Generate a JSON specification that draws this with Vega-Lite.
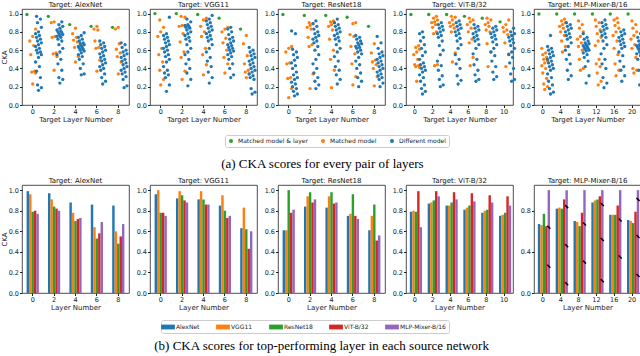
{
"$schema": "https://vega.github.io/schema/vega-lite/v6.json",
"padding": {"left": 0, "top": 0, "right": 0, "bottom": 0},
"config": {
  "font": "DejaVu Sans",
  "view": {"stroke": "#222", "strokeWidth": 0.8},
  "axis": {"domain": false, "grid": false, "labelFontSize": 6.5, "titleFontSize": 7, "titleFontWeight": "normal", "tickColor": "#222", "tickSize": 2.5, "labelColor": "#222", "titleColor": "#222", "labelPadding": 1, "titlePadding": 0.5},
  "title": {"fontSize": 7, "fontWeight": "normal", "offset": 1, "color": "#111"},
  "legend": {"labelFontSize": 6, "labelColor": "#222", "strokeColor": "#ccc", "padding": 3, "cornerRadius": 2, "columnPadding": 12, "labelLimit": 200, "direction": "horizontal", "orient": "none"}
},
"resolve": {"scale": {"color": "independent"}, "legend": {"color": "independent"}},
"spacing": 5,
"datasets": {
"s_alexnet": [
{"layer":0,"kind":"G","cka":0.99},{"layer":2,"kind":"G","cka":0.97},{"layer":4,"kind":"G","cka":0.88},{"layer":6,"kind":"G","cka":0.86},{"layer":8,"kind":"G","cka":0.85},
{"layer":0,"kind":"O","cka":0.83},{"layer":0,"kind":"O","cka":0.75},{"layer":0,"kind":"O","cka":0.70},{"layer":0,"kind":"O","cka":0.65},{"layer":0,"kind":"O","cka":0.55},{"layer":0,"kind":"O","cka":0.37},{"layer":0,"kind":"O","cka":0.35},{"layer":0,"kind":"O","cka":0.36},{"layer":0,"kind":"O","cka":0.23},
{"layer":2,"kind":"O","cka":0.91},{"layer":2,"kind":"O","cka":0.90},{"layer":2,"kind":"O","cka":0.75},{"layer":2,"kind":"O","cka":0.74},{"layer":2,"kind":"O","cka":0.57},{"layer":2,"kind":"O","cka":0.56},{"layer":2,"kind":"O","cka":0.53},{"layer":2,"kind":"O","cka":0.38},
{"layer":4,"kind":"O","cka":0.84},{"layer":4,"kind":"O","cka":0.78},{"layer":4,"kind":"O","cka":0.74},{"layer":4,"kind":"O","cka":0.71},{"layer":4,"kind":"O","cka":0.69},{"layer":4,"kind":"O","cka":0.63},{"layer":4,"kind":"O","cka":0.53},{"layer":4,"kind":"O","cka":0.47},
{"layer":6,"kind":"O","cka":0.86},{"layer":6,"kind":"O","cka":0.83},{"layer":6,"kind":"O","cka":0.82},{"layer":6,"kind":"O","cka":0.70},{"layer":6,"kind":"O","cka":0.63},{"layer":6,"kind":"O","cka":0.62},{"layer":6,"kind":"O","cka":0.49},{"layer":6,"kind":"O","cka":0.37},
{"layer":8,"kind":"O","cka":0.85},{"layer":8,"kind":"O","cka":0.83},{"layer":8,"kind":"O","cka":0.67},{"layer":8,"kind":"O","cka":0.61},{"layer":8,"kind":"O","cka":0.57},{"layer":8,"kind":"O","cka":0.53},{"layer":8,"kind":"O","cka":0.47},{"layer":8,"kind":"O","cka":0.34},
{"layer":0,"kind":"D","cka":0.16},{"layer":0,"kind":"D","cka":0.19},{"layer":0,"kind":"D","cka":0.22},{"layer":0,"kind":"D","cka":0.30},{"layer":0,"kind":"D","cka":0.37},{"layer":0,"kind":"D","cka":0.42},{"layer":0,"kind":"D","cka":0.47},{"layer":0,"kind":"D","cka":0.52},{"layer":0,"kind":"D","cka":0.55},{"layer":0,"kind":"D","cka":0.57},{"layer":0,"kind":"D","cka":0.58},{"layer":0,"kind":"D","cka":0.60},{"layer":0,"kind":"D","cka":0.62},{"layer":0,"kind":"D","cka":0.64},{"layer":0,"kind":"D","cka":0.66},{"layer":0,"kind":"D","cka":0.68},{"layer":0,"kind":"D","cka":0.70},{"layer":0,"kind":"D","cka":0.72},{"layer":0,"kind":"D","cka":0.74},{"layer":0,"kind":"D","cka":0.76},{"layer":0,"kind":"D","cka":0.78},{"layer":0,"kind":"D","cka":0.80},{"layer":0,"kind":"D","cka":0.85},{"layer":0,"kind":"D","cka":0.90},{"layer":0,"kind":"D","cka":0.94},{"layer":0,"kind":"D","cka":0.97},
{"layer":2,"kind":"D","cka":0.24},{"layer":2,"kind":"D","cka":0.28},{"layer":2,"kind":"D","cka":0.30},{"layer":2,"kind":"D","cka":0.38},{"layer":2,"kind":"D","cka":0.45},{"layer":2,"kind":"D","cka":0.50},{"layer":2,"kind":"D","cka":0.55},{"layer":2,"kind":"D","cka":0.58},{"layer":2,"kind":"D","cka":0.62},{"layer":2,"kind":"D","cka":0.66},{"layer":2,"kind":"D","cka":0.70},{"layer":2,"kind":"D","cka":0.72},{"layer":2,"kind":"D","cka":0.74},{"layer":2,"kind":"D","cka":0.75},{"layer":2,"kind":"D","cka":0.76},{"layer":2,"kind":"D","cka":0.77},{"layer":2,"kind":"D","cka":0.78},{"layer":2,"kind":"D","cka":0.79},{"layer":2,"kind":"D","cka":0.80},{"layer":2,"kind":"D","cka":0.81},{"layer":2,"kind":"D","cka":0.82},{"layer":2,"kind":"D","cka":0.84},{"layer":2,"kind":"D","cka":0.86},{"layer":2,"kind":"D","cka":0.88},{"layer":2,"kind":"D","cka":0.91},
{"layer":4,"kind":"D","cka":0.33},{"layer":4,"kind":"D","cka":0.34},{"layer":4,"kind":"D","cka":0.40},{"layer":4,"kind":"D","cka":0.45},{"layer":4,"kind":"D","cka":0.50},{"layer":4,"kind":"D","cka":0.53},{"layer":4,"kind":"D","cka":0.55},{"layer":4,"kind":"D","cka":0.57},{"layer":4,"kind":"D","cka":0.59},{"layer":4,"kind":"D","cka":0.60},{"layer":4,"kind":"D","cka":0.61},{"layer":4,"kind":"D","cka":0.62},{"layer":4,"kind":"D","cka":0.63},{"layer":4,"kind":"D","cka":0.64},{"layer":4,"kind":"D","cka":0.65},{"layer":4,"kind":"D","cka":0.66},{"layer":4,"kind":"D","cka":0.67},{"layer":4,"kind":"D","cka":0.68},{"layer":4,"kind":"D","cka":0.70},{"layer":4,"kind":"D","cka":0.72},{"layer":4,"kind":"D","cka":0.74},{"layer":4,"kind":"D","cka":0.76},{"layer":4,"kind":"D","cka":0.79},
{"layer":6,"kind":"D","cka":0.23},{"layer":6,"kind":"D","cka":0.26},{"layer":6,"kind":"D","cka":0.30},{"layer":6,"kind":"D","cka":0.34},{"layer":6,"kind":"D","cka":0.38},{"layer":6,"kind":"D","cka":0.40},{"layer":6,"kind":"D","cka":0.42},{"layer":6,"kind":"D","cka":0.44},{"layer":6,"kind":"D","cka":0.46},{"layer":6,"kind":"D","cka":0.48},{"layer":6,"kind":"D","cka":0.50},{"layer":6,"kind":"D","cka":0.52},{"layer":6,"kind":"D","cka":0.54},{"layer":6,"kind":"D","cka":0.56},{"layer":6,"kind":"D","cka":0.58},{"layer":6,"kind":"D","cka":0.60},{"layer":6,"kind":"D","cka":0.62},{"layer":6,"kind":"D","cka":0.64},{"layer":6,"kind":"D","cka":0.66},{"layer":6,"kind":"D","cka":0.68},{"layer":6,"kind":"D","cka":0.70},
{"layer":8,"kind":"D","cka":0.19},{"layer":8,"kind":"D","cka":0.21},{"layer":8,"kind":"D","cka":0.28},{"layer":8,"kind":"D","cka":0.31},{"layer":8,"kind":"D","cka":0.34},{"layer":8,"kind":"D","cka":0.36},{"layer":8,"kind":"D","cka":0.38},{"layer":8,"kind":"D","cka":0.40},{"layer":8,"kind":"D","cka":0.42},{"layer":8,"kind":"D","cka":0.44},{"layer":8,"kind":"D","cka":0.46},{"layer":8,"kind":"D","cka":0.48},{"layer":8,"kind":"D","cka":0.50},{"layer":8,"kind":"D","cka":0.52},{"layer":8,"kind":"D","cka":0.54},{"layer":8,"kind":"D","cka":0.56},{"layer":8,"kind":"D","cka":0.58},{"layer":8,"kind":"D","cka":0.60},{"layer":8,"kind":"D","cka":0.63},{"layer":8,"kind":"D","cka":0.66},{"layer":8,"kind":"D","cka":0.68}
],
"s_vgg": [
{"layer":0,"kind":"G","cka":1.0},{"layer":2,"kind":"G","cka":1.0},{"layer":4,"kind":"G","cka":0.99},{"layer":6,"kind":"G","cka":0.95},{"layer":8,"kind":"G","cka":0.83},
{"layer":0,"kind":"O","cka":0.93},{"layer":0,"kind":"O","cka":0.85},{"layer":0,"kind":"O","cka":0.80},{"layer":0,"kind":"O","cka":0.75},{"layer":0,"kind":"O","cka":0.62},{"layer":0,"kind":"O","cka":0.55},{"layer":0,"kind":"O","cka":0.47},{"layer":0,"kind":"O","cka":0.38},{"layer":0,"kind":"O","cka":0.28},{"layer":0,"kind":"O","cka":0.22},
{"layer":2,"kind":"O","cka":0.97},{"layer":2,"kind":"O","cka":0.96},{"layer":2,"kind":"O","cka":0.87},{"layer":2,"kind":"O","cka":0.86},{"layer":2,"kind":"O","cka":0.78},{"layer":2,"kind":"O","cka":0.69},{"layer":2,"kind":"O","cka":0.58},{"layer":2,"kind":"O","cka":0.52},{"layer":2,"kind":"O","cka":0.37},{"layer":2,"kind":"O","cka":0.28},
{"layer":4,"kind":"O","cka":0.95},{"layer":4,"kind":"O","cka":0.93},{"layer":4,"kind":"O","cka":0.86},{"layer":4,"kind":"O","cka":0.80},{"layer":4,"kind":"O","cka":0.75},{"layer":4,"kind":"O","cka":0.62},{"layer":4,"kind":"O","cka":0.55},{"layer":4,"kind":"O","cka":0.44},{"layer":4,"kind":"O","cka":0.33},
{"layer":6,"kind":"O","cka":0.85},{"layer":6,"kind":"O","cka":0.83},{"layer":6,"kind":"O","cka":0.80},{"layer":6,"kind":"O","cka":0.73},{"layer":6,"kind":"O","cka":0.68},{"layer":6,"kind":"O","cka":0.60},{"layer":6,"kind":"O","cka":0.52},{"layer":6,"kind":"O","cka":0.45},{"layer":6,"kind":"O","cka":0.35},
{"layer":8,"kind":"O","cka":0.76},{"layer":8,"kind":"O","cka":0.67},{"layer":8,"kind":"O","cka":0.54},{"layer":8,"kind":"O","cka":0.45},{"layer":8,"kind":"O","cka":0.38},{"layer":8,"kind":"O","cka":0.36},{"layer":8,"kind":"O","cka":0.34},{"layer":8,"kind":"O","cka":0.30},
{"layer":0,"kind":"D","cka":0.15},{"layer":0,"kind":"D","cka":0.22},{"layer":0,"kind":"D","cka":0.30},{"layer":0,"kind":"D","cka":0.33},{"layer":0,"kind":"D","cka":0.35},{"layer":0,"kind":"D","cka":0.38},{"layer":0,"kind":"D","cka":0.42},{"layer":0,"kind":"D","cka":0.47},{"layer":0,"kind":"D","cka":0.50},{"layer":0,"kind":"D","cka":0.53},{"layer":0,"kind":"D","cka":0.55},{"layer":0,"kind":"D","cka":0.58},{"layer":0,"kind":"D","cka":0.60},{"layer":0,"kind":"D","cka":0.62},{"layer":0,"kind":"D","cka":0.64},{"layer":0,"kind":"D","cka":0.66},{"layer":0,"kind":"D","cka":0.68},{"layer":0,"kind":"D","cka":0.70},{"layer":0,"kind":"D","cka":0.72},{"layer":0,"kind":"D","cka":0.74},{"layer":0,"kind":"D","cka":0.76},{"layer":0,"kind":"D","cka":0.78},{"layer":0,"kind":"D","cka":0.96},
{"layer":2,"kind":"D","cka":0.21},{"layer":2,"kind":"D","cka":0.28},{"layer":2,"kind":"D","cka":0.35},{"layer":2,"kind":"D","cka":0.40},{"layer":2,"kind":"D","cka":0.45},{"layer":2,"kind":"D","cka":0.50},{"layer":2,"kind":"D","cka":0.55},{"layer":2,"kind":"D","cka":0.58},{"layer":2,"kind":"D","cka":0.62},{"layer":2,"kind":"D","cka":0.66},{"layer":2,"kind":"D","cka":0.70},{"layer":2,"kind":"D","cka":0.72},{"layer":2,"kind":"D","cka":0.74},{"layer":2,"kind":"D","cka":0.76},{"layer":2,"kind":"D","cka":0.78},{"layer":2,"kind":"D","cka":0.80},{"layer":2,"kind":"D","cka":0.82},{"layer":2,"kind":"D","cka":0.84},{"layer":2,"kind":"D","cka":0.85},{"layer":2,"kind":"D","cka":0.86},{"layer":2,"kind":"D","cka":0.87},{"layer":2,"kind":"D","cka":0.88},{"layer":2,"kind":"D","cka":0.91},{"layer":2,"kind":"D","cka":0.94},
{"layer":4,"kind":"D","cka":0.24},{"layer":4,"kind":"D","cka":0.30},{"layer":4,"kind":"D","cka":0.36},{"layer":4,"kind":"D","cka":0.42},{"layer":4,"kind":"D","cka":0.48},{"layer":4,"kind":"D","cka":0.52},{"layer":4,"kind":"D","cka":0.58},{"layer":4,"kind":"D","cka":0.62},{"layer":4,"kind":"D","cka":0.66},{"layer":4,"kind":"D","cka":0.70},{"layer":4,"kind":"D","cka":0.72},{"layer":4,"kind":"D","cka":0.74},{"layer":4,"kind":"D","cka":0.76},{"layer":4,"kind":"D","cka":0.78},{"layer":4,"kind":"D","cka":0.80},{"layer":4,"kind":"D","cka":0.82},{"layer":4,"kind":"D","cka":0.84},{"layer":4,"kind":"D","cka":0.86},{"layer":4,"kind":"D","cka":0.88},{"layer":4,"kind":"D","cka":0.90},{"layer":4,"kind":"D","cka":0.92},{"layer":4,"kind":"D","cka":0.94},{"layer":4,"kind":"D","cka":0.98},
{"layer":6,"kind":"D","cka":0.30},{"layer":6,"kind":"D","cka":0.33},{"layer":6,"kind":"D","cka":0.40},{"layer":6,"kind":"D","cka":0.45},{"layer":6,"kind":"D","cka":0.50},{"layer":6,"kind":"D","cka":0.53},{"layer":6,"kind":"D","cka":0.55},{"layer":6,"kind":"D","cka":0.57},{"layer":6,"kind":"D","cka":0.59},{"layer":6,"kind":"D","cka":0.60},{"layer":6,"kind":"D","cka":0.62},{"layer":6,"kind":"D","cka":0.63},{"layer":6,"kind":"D","cka":0.65},{"layer":6,"kind":"D","cka":0.66},{"layer":6,"kind":"D","cka":0.68},{"layer":6,"kind":"D","cka":0.70},{"layer":6,"kind":"D","cka":0.72},{"layer":6,"kind":"D","cka":0.74},{"layer":6,"kind":"D","cka":0.77},{"layer":6,"kind":"D","cka":0.80},{"layer":6,"kind":"D","cka":0.83},{"layer":6,"kind":"D","cka":0.85},
{"layer":8,"kind":"D","cka":0.12},{"layer":8,"kind":"D","cka":0.14},{"layer":8,"kind":"D","cka":0.18},{"layer":8,"kind":"D","cka":0.28},{"layer":8,"kind":"D","cka":0.30},{"layer":8,"kind":"D","cka":0.32},{"layer":8,"kind":"D","cka":0.34},{"layer":8,"kind":"D","cka":0.36},{"layer":8,"kind":"D","cka":0.38},{"layer":8,"kind":"D","cka":0.40},{"layer":8,"kind":"D","cka":0.42},{"layer":8,"kind":"D","cka":0.44},{"layer":8,"kind":"D","cka":0.46},{"layer":8,"kind":"D","cka":0.48},{"layer":8,"kind":"D","cka":0.50},{"layer":8,"kind":"D","cka":0.52},{"layer":8,"kind":"D","cka":0.54},{"layer":8,"kind":"D","cka":0.56},{"layer":8,"kind":"D","cka":0.58},{"layer":8,"kind":"D","cka":0.60},{"layer":8,"kind":"D","cka":0.63}
],
"s_resnet": [
{"layer":0,"kind":"G","cka":0.99},{"layer":2,"kind":"G","cka":0.98},{"layer":4,"kind":"G","cka":0.98},{"layer":6,"kind":"G","cka":0.96},{"layer":8,"kind":"G","cka":0.86},
{"layer":0,"kind":"O","cka":0.64},{"layer":0,"kind":"O","cka":0.62},{"layer":0,"kind":"O","cka":0.58},{"layer":0,"kind":"O","cka":0.46},{"layer":0,"kind":"O","cka":0.45},{"layer":0,"kind":"O","cka":0.30},{"layer":0,"kind":"O","cka":0.29},{"layer":0,"kind":"O","cka":0.18},{"layer":0,"kind":"O","cka":0.08},
{"layer":2,"kind":"O","cka":0.90},{"layer":2,"kind":"O","cka":0.89},{"layer":2,"kind":"O","cka":0.87},{"layer":2,"kind":"O","cka":0.85},{"layer":2,"kind":"O","cka":0.83},{"layer":2,"kind":"O","cka":0.74},{"layer":2,"kind":"O","cka":0.66},{"layer":2,"kind":"O","cka":0.64},{"layer":2,"kind":"O","cka":0.34},{"layer":2,"kind":"O","cka":0.18},
{"layer":4,"kind":"O","cka":0.92},{"layer":4,"kind":"O","cka":0.91},{"layer":4,"kind":"O","cka":0.90},{"layer":4,"kind":"O","cka":0.88},{"layer":4,"kind":"O","cka":0.86},{"layer":4,"kind":"O","cka":0.82},{"layer":4,"kind":"O","cka":0.72},{"layer":4,"kind":"O","cka":0.60},{"layer":4,"kind":"O","cka":0.50},{"layer":4,"kind":"O","cka":0.38},{"layer":4,"kind":"O","cka":0.19},
{"layer":6,"kind":"O","cka":0.90},{"layer":6,"kind":"O","cka":0.89},{"layer":6,"kind":"O","cka":0.77},{"layer":6,"kind":"O","cka":0.75},{"layer":6,"kind":"O","cka":0.64},{"layer":6,"kind":"O","cka":0.56},{"layer":6,"kind":"O","cka":0.45},{"layer":6,"kind":"O","cka":0.31},{"layer":6,"kind":"O","cka":0.22},
{"layer":8,"kind":"O","cka":0.67},{"layer":8,"kind":"O","cka":0.57},{"layer":8,"kind":"O","cka":0.49},{"layer":8,"kind":"O","cka":0.47},{"layer":8,"kind":"O","cka":0.44},{"layer":8,"kind":"O","cka":0.40},{"layer":8,"kind":"O","cka":0.31},{"layer":8,"kind":"O","cka":0.21},
{"layer":0,"kind":"D","cka":0.10},{"layer":0,"kind":"D","cka":0.12},{"layer":0,"kind":"D","cka":0.15},{"layer":0,"kind":"D","cka":0.18},{"layer":0,"kind":"D","cka":0.20},{"layer":0,"kind":"D","cka":0.23},{"layer":0,"kind":"D","cka":0.25},{"layer":0,"kind":"D","cka":0.28},{"layer":0,"kind":"D","cka":0.30},{"layer":0,"kind":"D","cka":0.33},{"layer":0,"kind":"D","cka":0.36},{"layer":0,"kind":"D","cka":0.40},{"layer":0,"kind":"D","cka":0.43},{"layer":0,"kind":"D","cka":0.46},{"layer":0,"kind":"D","cka":0.49},{"layer":0,"kind":"D","cka":0.52},{"layer":0,"kind":"D","cka":0.55},{"layer":0,"kind":"D","cka":0.58},{"layer":0,"kind":"D","cka":0.61},{"layer":0,"kind":"D","cka":0.78},{"layer":0,"kind":"D","cka":0.81},
{"layer":2,"kind":"D","cka":0.18},{"layer":2,"kind":"D","cka":0.22},{"layer":2,"kind":"D","cka":0.26},{"layer":2,"kind":"D","cka":0.30},{"layer":2,"kind":"D","cka":0.35},{"layer":2,"kind":"D","cka":0.40},{"layer":2,"kind":"D","cka":0.45},{"layer":2,"kind":"D","cka":0.50},{"layer":2,"kind":"D","cka":0.55},{"layer":2,"kind":"D","cka":0.60},{"layer":2,"kind":"D","cka":0.64},{"layer":2,"kind":"D","cka":0.68},{"layer":2,"kind":"D","cka":0.70},{"layer":2,"kind":"D","cka":0.72},{"layer":2,"kind":"D","cka":0.74},{"layer":2,"kind":"D","cka":0.76},{"layer":2,"kind":"D","cka":0.78},{"layer":2,"kind":"D","cka":0.80},{"layer":2,"kind":"D","cka":0.83},{"layer":2,"kind":"D","cka":0.86},{"layer":2,"kind":"D","cka":0.89},{"layer":2,"kind":"D","cka":0.92},
{"layer":4,"kind":"D","cka":0.23},{"layer":4,"kind":"D","cka":0.28},{"layer":4,"kind":"D","cka":0.33},{"layer":4,"kind":"D","cka":0.38},{"layer":4,"kind":"D","cka":0.42},{"layer":4,"kind":"D","cka":0.48},{"layer":4,"kind":"D","cka":0.53},{"layer":4,"kind":"D","cka":0.58},{"layer":4,"kind":"D","cka":0.62},{"layer":4,"kind":"D","cka":0.66},{"layer":4,"kind":"D","cka":0.70},{"layer":4,"kind":"D","cka":0.72},{"layer":4,"kind":"D","cka":0.74},{"layer":4,"kind":"D","cka":0.76},{"layer":4,"kind":"D","cka":0.78},{"layer":4,"kind":"D","cka":0.80},{"layer":4,"kind":"D","cka":0.82},{"layer":4,"kind":"D","cka":0.84},{"layer":4,"kind":"D","cka":0.86},{"layer":4,"kind":"D","cka":0.88},{"layer":4,"kind":"D","cka":0.90},{"layer":4,"kind":"D","cka":0.94},
{"layer":6,"kind":"D","cka":0.20},{"layer":6,"kind":"D","cka":0.26},{"layer":6,"kind":"D","cka":0.30},{"layer":6,"kind":"D","cka":0.35},{"layer":6,"kind":"D","cka":0.40},{"layer":6,"kind":"D","cka":0.44},{"layer":6,"kind":"D","cka":0.48},{"layer":6,"kind":"D","cka":0.52},{"layer":6,"kind":"D","cka":0.56},{"layer":6,"kind":"D","cka":0.58},{"layer":6,"kind":"D","cka":0.60},{"layer":6,"kind":"D","cka":0.62},{"layer":6,"kind":"D","cka":0.63},{"layer":6,"kind":"D","cka":0.64},{"layer":6,"kind":"D","cka":0.66},{"layer":6,"kind":"D","cka":0.67},{"layer":6,"kind":"D","cka":0.68},{"layer":6,"kind":"D","cka":0.70},{"layer":6,"kind":"D","cka":0.72},{"layer":6,"kind":"D","cka":0.74},{"layer":6,"kind":"D","cka":0.76},
{"layer":8,"kind":"D","cka":0.20},{"layer":8,"kind":"D","cka":0.24},{"layer":8,"kind":"D","cka":0.28},{"layer":8,"kind":"D","cka":0.30},{"layer":8,"kind":"D","cka":0.32},{"layer":8,"kind":"D","cka":0.34},{"layer":8,"kind":"D","cka":0.36},{"layer":8,"kind":"D","cka":0.38},{"layer":8,"kind":"D","cka":0.40},{"layer":8,"kind":"D","cka":0.42},{"layer":8,"kind":"D","cka":0.44},{"layer":8,"kind":"D","cka":0.46},{"layer":8,"kind":"D","cka":0.48},{"layer":8,"kind":"D","cka":0.50},{"layer":8,"kind":"D","cka":0.52},{"layer":8,"kind":"D","cka":0.54},{"layer":8,"kind":"D","cka":0.56},{"layer":8,"kind":"D","cka":0.58},{"layer":8,"kind":"D","cka":0.62},{"layer":8,"kind":"D","cka":0.68},{"layer":8,"kind":"D","cka":0.75}
],
"s_vit": [
{"layer":0,"kind":"G","cka":0.99},{"layer":2,"kind":"G","cka":0.99},{"layer":4,"kind":"G","cka":0.99},{"layer":6,"kind":"G","cka":0.97},{"layer":8,"kind":"G","cka":0.95},{"layer":10,"kind":"G","cka":0.91},
{"layer":0,"kind":"O","cka":0.65},{"layer":0,"kind":"O","cka":0.63},{"layer":0,"kind":"O","cka":0.61},{"layer":0,"kind":"O","cka":0.58},{"layer":0,"kind":"O","cka":0.55},{"layer":0,"kind":"O","cka":0.50},{"layer":0,"kind":"O","cka":0.44},{"layer":0,"kind":"O","cka":0.43},{"layer":0,"kind":"O","cka":0.42},{"layer":0,"kind":"O","cka":0.41},{"layer":0,"kind":"O","cka":0.26},
{"layer":2,"kind":"O","cka":0.97},{"layer":2,"kind":"O","cka":0.95},{"layer":2,"kind":"O","cka":0.93},{"layer":2,"kind":"O","cka":0.91},{"layer":2,"kind":"O","cka":0.90},{"layer":2,"kind":"O","cka":0.88},{"layer":2,"kind":"O","cka":0.85},{"layer":2,"kind":"O","cka":0.80},{"layer":2,"kind":"O","cka":0.78},{"layer":2,"kind":"O","cka":0.44},{"layer":2,"kind":"O","cka":0.43},
{"layer":4,"kind":"O","cka":0.97},{"layer":4,"kind":"O","cka":0.96},{"layer":4,"kind":"O","cka":0.93},{"layer":4,"kind":"O","cka":0.90},{"layer":4,"kind":"O","cka":0.88},{"layer":4,"kind":"O","cka":0.86},{"layer":4,"kind":"O","cka":0.84},{"layer":4,"kind":"O","cka":0.80},{"layer":4,"kind":"O","cka":0.57},{"layer":4,"kind":"O","cka":0.47},
{"layer":6,"kind":"O","cka":0.95},{"layer":6,"kind":"O","cka":0.93},{"layer":6,"kind":"O","cka":0.91},{"layer":6,"kind":"O","cka":0.88},{"layer":6,"kind":"O","cka":0.84},{"layer":6,"kind":"O","cka":0.80},{"layer":6,"kind":"O","cka":0.72},{"layer":6,"kind":"O","cka":0.68},{"layer":6,"kind":"O","cka":0.52},{"layer":6,"kind":"O","cka":0.43},
{"layer":8,"kind":"O","cka":0.95},{"layer":8,"kind":"O","cka":0.93},{"layer":8,"kind":"O","cka":0.90},{"layer":8,"kind":"O","cka":0.88},{"layer":8,"kind":"O","cka":0.86},{"layer":8,"kind":"O","cka":0.82},{"layer":8,"kind":"O","cka":0.80},{"layer":8,"kind":"O","cka":0.67},{"layer":8,"kind":"O","cka":0.58},{"layer":8,"kind":"O","cka":0.42},
{"layer":10,"kind":"O","cka":0.93},{"layer":10,"kind":"O","cka":0.88},{"layer":10,"kind":"O","cka":0.85},{"layer":10,"kind":"O","cka":0.82},{"layer":10,"kind":"O","cka":0.80},{"layer":10,"kind":"O","cka":0.77},{"layer":10,"kind":"O","cka":0.68},{"layer":10,"kind":"O","cka":0.56},{"layer":10,"kind":"O","cka":0.42},
{"layer":0,"kind":"D","cka":0.12},{"layer":0,"kind":"D","cka":0.15},{"layer":0,"kind":"D","cka":0.18},{"layer":0,"kind":"D","cka":0.22},{"layer":0,"kind":"D","cka":0.26},{"layer":0,"kind":"D","cka":0.30},{"layer":0,"kind":"D","cka":0.33},{"layer":0,"kind":"D","cka":0.36},{"layer":0,"kind":"D","cka":0.38},{"layer":0,"kind":"D","cka":0.40},{"layer":0,"kind":"D","cka":0.42},{"layer":0,"kind":"D","cka":0.44},{"layer":0,"kind":"D","cka":0.46},{"layer":0,"kind":"D","cka":0.50},{"layer":0,"kind":"D","cka":0.54},{"layer":0,"kind":"D","cka":0.58},{"layer":0,"kind":"D","cka":0.62},{"layer":0,"kind":"D","cka":0.66},{"layer":0,"kind":"D","cka":0.70},{"layer":0,"kind":"D","cka":0.74},{"layer":0,"kind":"D","cka":0.78},{"layer":0,"kind":"D","cka":0.80},
{"layer":2,"kind":"D","cka":0.20},{"layer":2,"kind":"D","cka":0.22},{"layer":2,"kind":"D","cka":0.28},{"layer":2,"kind":"D","cka":0.32},{"layer":2,"kind":"D","cka":0.38},{"layer":2,"kind":"D","cka":0.43},{"layer":2,"kind":"D","cka":0.48},{"layer":2,"kind":"D","cka":0.55},{"layer":2,"kind":"D","cka":0.60},{"layer":2,"kind":"D","cka":0.65},{"layer":2,"kind":"D","cka":0.70},{"layer":2,"kind":"D","cka":0.74},{"layer":2,"kind":"D","cka":0.76},{"layer":2,"kind":"D","cka":0.78},{"layer":2,"kind":"D","cka":0.80},{"layer":2,"kind":"D","cka":0.82},{"layer":2,"kind":"D","cka":0.84},{"layer":2,"kind":"D","cka":0.86},{"layer":2,"kind":"D","cka":0.88},{"layer":2,"kind":"D","cka":0.90},
{"layer":4,"kind":"D","cka":0.23},{"layer":4,"kind":"D","cka":0.27},{"layer":4,"kind":"D","cka":0.32},{"layer":4,"kind":"D","cka":0.40},{"layer":4,"kind":"D","cka":0.45},{"layer":4,"kind":"D","cka":0.50},{"layer":4,"kind":"D","cka":0.55},{"layer":4,"kind":"D","cka":0.62},{"layer":4,"kind":"D","cka":0.66},{"layer":4,"kind":"D","cka":0.70},{"layer":4,"kind":"D","cka":0.73},{"layer":4,"kind":"D","cka":0.76},{"layer":4,"kind":"D","cka":0.78},{"layer":4,"kind":"D","cka":0.80},{"layer":4,"kind":"D","cka":0.82},{"layer":4,"kind":"D","cka":0.84},{"layer":4,"kind":"D","cka":0.86},{"layer":4,"kind":"D","cka":0.88},{"layer":4,"kind":"D","cka":0.90},{"layer":4,"kind":"D","cka":0.92},
{"layer":6,"kind":"D","cka":0.26},{"layer":6,"kind":"D","cka":0.28},{"layer":6,"kind":"D","cka":0.33},{"layer":6,"kind":"D","cka":0.38},{"layer":6,"kind":"D","cka":0.44},{"layer":6,"kind":"D","cka":0.50},{"layer":6,"kind":"D","cka":0.56},{"layer":6,"kind":"D","cka":0.62},{"layer":6,"kind":"D","cka":0.66},{"layer":6,"kind":"D","cka":0.70},{"layer":6,"kind":"D","cka":0.72},{"layer":6,"kind":"D","cka":0.74},{"layer":6,"kind":"D","cka":0.76},{"layer":6,"kind":"D","cka":0.78},{"layer":6,"kind":"D","cka":0.80},{"layer":6,"kind":"D","cka":0.82},{"layer":6,"kind":"D","cka":0.84},{"layer":6,"kind":"D","cka":0.86},{"layer":6,"kind":"D","cka":0.88},
{"layer":8,"kind":"D","cka":0.28},{"layer":8,"kind":"D","cka":0.31},{"layer":8,"kind":"D","cka":0.36},{"layer":8,"kind":"D","cka":0.42},{"layer":8,"kind":"D","cka":0.48},{"layer":8,"kind":"D","cka":0.54},{"layer":8,"kind":"D","cka":0.58},{"layer":8,"kind":"D","cka":0.62},{"layer":8,"kind":"D","cka":0.66},{"layer":8,"kind":"D","cka":0.69},{"layer":8,"kind":"D","cka":0.72},{"layer":8,"kind":"D","cka":0.74},{"layer":8,"kind":"D","cka":0.76},{"layer":8,"kind":"D","cka":0.78},{"layer":8,"kind":"D","cka":0.80},{"layer":8,"kind":"D","cka":0.82},{"layer":8,"kind":"D","cka":0.84},{"layer":8,"kind":"D","cka":0.86},
{"layer":10,"kind":"D","cka":0.26},{"layer":10,"kind":"D","cka":0.28},{"layer":10,"kind":"D","cka":0.34},{"layer":10,"kind":"D","cka":0.40},{"layer":10,"kind":"D","cka":0.46},{"layer":10,"kind":"D","cka":0.52},{"layer":10,"kind":"D","cka":0.55},{"layer":10,"kind":"D","cka":0.58},{"layer":10,"kind":"D","cka":0.62},{"layer":10,"kind":"D","cka":0.65},{"layer":10,"kind":"D","cka":0.68},{"layer":10,"kind":"D","cka":0.70},{"layer":10,"kind":"D","cka":0.72},{"layer":10,"kind":"D","cka":0.74},{"layer":10,"kind":"D","cka":0.76},{"layer":10,"kind":"D","cka":0.78},{"layer":10,"kind":"D","cka":0.80},{"layer":10,"kind":"D","cka":0.84}
],
"s_mlp": [
{"layer":0,"kind":"G","cka":0.995},{"layer":4,"kind":"G","cka":0.995},{"layer":8,"kind":"G","cka":0.995},{"layer":12,"kind":"G","cka":0.995},{"layer":16,"kind":"G","cka":0.995},{"layer":20,"kind":"G","cka":0.995},
{"layer":0,"kind":"O","cka":0.62},{"layer":0,"kind":"O","cka":0.57},{"layer":0,"kind":"O","cka":0.55},{"layer":0,"kind":"O","cka":0.52},{"layer":0,"kind":"O","cka":0.50},{"layer":0,"kind":"O","cka":0.48},{"layer":0,"kind":"O","cka":0.46},{"layer":0,"kind":"O","cka":0.43},{"layer":0,"kind":"O","cka":0.40},{"layer":0,"kind":"O","cka":0.35},{"layer":0,"kind":"O","cka":0.29},{"layer":0,"kind":"O","cka":0.23},{"layer":0,"kind":"O","cka":0.20},{"layer":0,"kind":"O","cka":0.17},
{"layer":4,"kind":"O","cka":0.94},{"layer":4,"kind":"O","cka":0.92},{"layer":4,"kind":"O","cka":0.90},{"layer":4,"kind":"O","cka":0.88},{"layer":4,"kind":"O","cka":0.86},{"layer":4,"kind":"O","cka":0.84},{"layer":4,"kind":"O","cka":0.80},{"layer":4,"kind":"O","cka":0.76},{"layer":4,"kind":"O","cka":0.70},{"layer":4,"kind":"O","cka":0.64},{"layer":4,"kind":"O","cka":0.58},
{"layer":8,"kind":"O","cka":0.92},{"layer":8,"kind":"O","cka":0.88},{"layer":8,"kind":"O","cka":0.84},{"layer":8,"kind":"O","cka":0.80},{"layer":8,"kind":"O","cka":0.75},{"layer":8,"kind":"O","cka":0.72},{"layer":8,"kind":"O","cka":0.68},{"layer":8,"kind":"O","cka":0.64},{"layer":8,"kind":"O","cka":0.60},{"layer":8,"kind":"O","cka":0.50},{"layer":8,"kind":"O","cka":0.40},{"layer":8,"kind":"O","cka":0.38},
{"layer":12,"kind":"O","cka":0.93},{"layer":12,"kind":"O","cka":0.90},{"layer":12,"kind":"O","cka":0.86},{"layer":12,"kind":"O","cka":0.82},{"layer":12,"kind":"O","cka":0.78},{"layer":12,"kind":"O","cka":0.74},{"layer":12,"kind":"O","cka":0.70},{"layer":12,"kind":"O","cka":0.65},{"layer":12,"kind":"O","cka":0.50},{"layer":12,"kind":"O","cka":0.45},{"layer":12,"kind":"O","cka":0.42},{"layer":12,"kind":"O","cka":0.35},{"layer":12,"kind":"O","cka":0.26},{"layer":12,"kind":"O","cka":0.22},
{"layer":16,"kind":"O","cka":0.95},{"layer":16,"kind":"O","cka":0.93},{"layer":16,"kind":"O","cka":0.90},{"layer":16,"kind":"O","cka":0.87},{"layer":16,"kind":"O","cka":0.84},{"layer":16,"kind":"O","cka":0.80},{"layer":16,"kind":"O","cka":0.76},{"layer":16,"kind":"O","cka":0.70},{"layer":16,"kind":"O","cka":0.62},{"layer":16,"kind":"O","cka":0.55},{"layer":16,"kind":"O","cka":0.45},{"layer":16,"kind":"O","cka":0.38},{"layer":16,"kind":"O","cka":0.32},
{"layer":20,"kind":"O","cka":0.92},{"layer":20,"kind":"O","cka":0.88},{"layer":20,"kind":"O","cka":0.84},{"layer":20,"kind":"O","cka":0.80},{"layer":20,"kind":"O","cka":0.76},{"layer":20,"kind":"O","cka":0.72},{"layer":20,"kind":"O","cka":0.66},{"layer":20,"kind":"O","cka":0.62},{"layer":20,"kind":"O","cka":0.52},{"layer":20,"kind":"O","cka":0.40},{"layer":20,"kind":"O","cka":0.38},{"layer":20,"kind":"O","cka":0.35},
{"layer":0,"kind":"D","cka":0.12},{"layer":0,"kind":"D","cka":0.14},{"layer":0,"kind":"D","cka":0.18},{"layer":0,"kind":"D","cka":0.22},{"layer":0,"kind":"D","cka":0.26},{"layer":0,"kind":"D","cka":0.30},{"layer":0,"kind":"D","cka":0.34},{"layer":0,"kind":"D","cka":0.38},{"layer":0,"kind":"D","cka":0.40},{"layer":0,"kind":"D","cka":0.42},{"layer":0,"kind":"D","cka":0.44},{"layer":0,"kind":"D","cka":0.46},{"layer":0,"kind":"D","cka":0.48},{"layer":0,"kind":"D","cka":0.50},{"layer":0,"kind":"D","cka":0.52},{"layer":0,"kind":"D","cka":0.54},{"layer":0,"kind":"D","cka":0.56},{"layer":0,"kind":"D","cka":0.58},{"layer":0,"kind":"D","cka":0.60},{"layer":0,"kind":"D","cka":0.62},{"layer":0,"kind":"D","cka":0.64},{"layer":0,"kind":"D","cka":0.76},
{"layer":4,"kind":"D","cka":0.28},{"layer":4,"kind":"D","cka":0.32},{"layer":4,"kind":"D","cka":0.38},{"layer":4,"kind":"D","cka":0.45},{"layer":4,"kind":"D","cka":0.50},{"layer":4,"kind":"D","cka":0.55},{"layer":4,"kind":"D","cka":0.60},{"layer":4,"kind":"D","cka":0.64},{"layer":4,"kind":"D","cka":0.68},{"layer":4,"kind":"D","cka":0.72},{"layer":4,"kind":"D","cka":0.74},{"layer":4,"kind":"D","cka":0.76},{"layer":4,"kind":"D","cka":0.78},{"layer":4,"kind":"D","cka":0.80},{"layer":4,"kind":"D","cka":0.82},{"layer":4,"kind":"D","cka":0.84},{"layer":4,"kind":"D","cka":0.86},{"layer":4,"kind":"D","cka":0.88},{"layer":4,"kind":"D","cka":0.90},
{"layer":8,"kind":"D","cka":0.24},{"layer":8,"kind":"D","cka":0.32},{"layer":8,"kind":"D","cka":0.42},{"layer":8,"kind":"D","cka":0.48},{"layer":8,"kind":"D","cka":0.52},{"layer":8,"kind":"D","cka":0.55},{"layer":8,"kind":"D","cka":0.57},{"layer":8,"kind":"D","cka":0.59},{"layer":8,"kind":"D","cka":0.60},{"layer":8,"kind":"D","cka":0.61},{"layer":8,"kind":"D","cka":0.62},{"layer":8,"kind":"D","cka":0.63},{"layer":8,"kind":"D","cka":0.64},{"layer":8,"kind":"D","cka":0.65},{"layer":8,"kind":"D","cka":0.66},{"layer":8,"kind":"D","cka":0.67},{"layer":8,"kind":"D","cka":0.68},{"layer":8,"kind":"D","cka":0.70},{"layer":8,"kind":"D","cka":0.72},{"layer":8,"kind":"D","cka":0.74},{"layer":8,"kind":"D","cka":0.78},
{"layer":12,"kind":"D","cka":0.19},{"layer":12,"kind":"D","cka":0.24},{"layer":12,"kind":"D","cka":0.30},{"layer":12,"kind":"D","cka":0.40},{"layer":12,"kind":"D","cka":0.45},{"layer":12,"kind":"D","cka":0.50},{"layer":12,"kind":"D","cka":0.56},{"layer":12,"kind":"D","cka":0.62},{"layer":12,"kind":"D","cka":0.66},{"layer":12,"kind":"D","cka":0.70},{"layer":12,"kind":"D","cka":0.74},{"layer":12,"kind":"D","cka":0.76},{"layer":12,"kind":"D","cka":0.78},{"layer":12,"kind":"D","cka":0.80},{"layer":12,"kind":"D","cka":0.82},{"layer":12,"kind":"D","cka":0.84},{"layer":12,"kind":"D","cka":0.86},{"layer":12,"kind":"D","cka":0.88},{"layer":12,"kind":"D","cka":0.90},{"layer":12,"kind":"D","cka":0.93},
{"layer":16,"kind":"D","cka":0.26},{"layer":16,"kind":"D","cka":0.32},{"layer":16,"kind":"D","cka":0.38},{"layer":16,"kind":"D","cka":0.42},{"layer":16,"kind":"D","cka":0.48},{"layer":16,"kind":"D","cka":0.54},{"layer":16,"kind":"D","cka":0.58},{"layer":16,"kind":"D","cka":0.62},{"layer":16,"kind":"D","cka":0.64},{"layer":16,"kind":"D","cka":0.66},{"layer":16,"kind":"D","cka":0.68},{"layer":16,"kind":"D","cka":0.70},{"layer":16,"kind":"D","cka":0.72},{"layer":16,"kind":"D","cka":0.74},{"layer":16,"kind":"D","cka":0.76},{"layer":16,"kind":"D","cka":0.78},{"layer":16,"kind":"D","cka":0.80},{"layer":16,"kind":"D","cka":0.82},
{"layer":20,"kind":"D","cka":0.22},{"layer":20,"kind":"D","cka":0.30},{"layer":20,"kind":"D","cka":0.38},{"layer":20,"kind":"D","cka":0.44},{"layer":20,"kind":"D","cka":0.50},{"layer":20,"kind":"D","cka":0.54},{"layer":20,"kind":"D","cka":0.56},{"layer":20,"kind":"D","cka":0.58},{"layer":20,"kind":"D","cka":0.60},{"layer":20,"kind":"D","cka":0.61},{"layer":20,"kind":"D","cka":0.62},{"layer":20,"kind":"D","cka":0.63},{"layer":20,"kind":"D","cka":0.64},{"layer":20,"kind":"D","cka":0.65},{"layer":20,"kind":"D","cka":0.66},{"layer":20,"kind":"D","cka":0.68},{"layer":20,"kind":"D","cka":0.70},{"layer":20,"kind":"D","cka":0.72},{"layer":20,"kind":"D","cka":0.74},{"layer":20,"kind":"D","cka":0.78}
],
"b_alexnet": [
{"layer":0,"source":"AlexNet","cka":0.99},{"layer":0,"source":"VGG11","cka":0.96},{"layer":0,"source":"ResNet18","cka":0.79},{"layer":0,"source":"ViT-B/32","cka":0.80},{"layer":0,"source":"MLP-Mixer-B/16","cka":0.77},
{"layer":2,"source":"AlexNet","cka":0.97},{"layer":2,"source":"VGG11","cka":0.91},{"layer":2,"source":"ResNet18","cka":0.84},{"layer":2,"source":"ViT-B/32","cka":0.82},{"layer":2,"source":"MLP-Mixer-B/16","cka":0.80},
{"layer":4,"source":"AlexNet","cka":0.88},{"layer":4,"source":"VGG11","cka":0.78},{"layer":4,"source":"ResNet18","cka":0.70},{"layer":4,"source":"ViT-B/32","cka":0.72},{"layer":4,"source":"MLP-Mixer-B/16","cka":0.73},
{"layer":6,"source":"AlexNet","cka":0.86},{"layer":6,"source":"VGG11","cka":0.64},{"layer":6,"source":"ResNet18","cka":0.53},{"layer":6,"source":"ViT-B/32","cka":0.58},{"layer":6,"source":"MLP-Mixer-B/16","cka":0.69},
{"layer":8,"source":"AlexNet","cka":0.85},{"layer":8,"source":"VGG11","cka":0.60},{"layer":8,"source":"ResNet18","cka":0.48},{"layer":8,"source":"ViT-B/32","cka":0.55},{"layer":8,"source":"MLP-Mixer-B/16","cka":0.67}
],
"b_vgg": [
{"layer":0,"source":"AlexNet","cka":0.96},{"layer":0,"source":"VGG11","cka":1.0},{"layer":0,"source":"ResNet18","cka":0.78},{"layer":0,"source":"ViT-B/32","cka":0.78},{"layer":0,"source":"MLP-Mixer-B/16","cka":0.75},
{"layer":2,"source":"AlexNet","cka":0.92},{"layer":2,"source":"VGG11","cka":0.99},{"layer":2,"source":"ResNet18","cka":0.95},{"layer":2,"source":"ViT-B/32","cka":0.90},{"layer":2,"source":"MLP-Mixer-B/16","cka":0.88},
{"layer":4,"source":"AlexNet","cka":0.91},{"layer":4,"source":"VGG11","cka":0.99},{"layer":4,"source":"ResNet18","cka":0.91},{"layer":4,"source":"ViT-B/32","cka":0.86},{"layer":4,"source":"MLP-Mixer-B/16","cka":0.86},
{"layer":6,"source":"AlexNet","cka":0.85},{"layer":6,"source":"VGG11","cka":0.95},{"layer":6,"source":"ResNet18","cka":0.80},{"layer":6,"source":"ViT-B/32","cka":0.73},{"layer":6,"source":"MLP-Mixer-B/16","cka":0.75},
{"layer":8,"source":"AlexNet","cka":0.63},{"layer":8,"source":"VGG11","cka":0.83},{"layer":8,"source":"ResNet18","cka":0.62},{"layer":8,"source":"ViT-B/32","cka":0.43},{"layer":8,"source":"MLP-Mixer-B/16","cka":0.60}
],
"b_resnet": [
{"layer":0,"source":"AlexNet","cka":0.61},{"layer":0,"source":"VGG11","cka":0.61},{"layer":0,"source":"ResNet18","cka":1.0},{"layer":0,"source":"ViT-B/32","cka":0.78},{"layer":0,"source":"MLP-Mixer-B/16","cka":0.81},
{"layer":2,"source":"AlexNet","cka":0.84},{"layer":2,"source":"VGG11","cka":0.94},{"layer":2,"source":"ResNet18","cka":0.98},{"layer":2,"source":"ViT-B/32","cka":0.88},{"layer":2,"source":"MLP-Mixer-B/16","cka":0.91},
{"layer":4,"source":"AlexNet","cka":0.83},{"layer":4,"source":"VGG11","cka":0.94},{"layer":4,"source":"ResNet18","cka":0.98},{"layer":4,"source":"ViT-B/32","cka":0.87},{"layer":4,"source":"MLP-Mixer-B/16","cka":0.88},
{"layer":6,"source":"AlexNet","cka":0.75},{"layer":6,"source":"VGG11","cka":0.77},{"layer":6,"source":"ResNet18","cka":0.96},{"layer":6,"source":"ViT-B/32","cka":0.75},{"layer":6,"source":"MLP-Mixer-B/16","cka":0.72},
{"layer":8,"source":"AlexNet","cka":0.61},{"layer":8,"source":"VGG11","cka":0.75},{"layer":8,"source":"ResNet18","cka":0.86},{"layer":8,"source":"ViT-B/32","cka":0.51},{"layer":8,"source":"MLP-Mixer-B/16","cka":0.56}
],
"b_vit": [
{"layer":0,"source":"AlexNet","cka":0.79},{"layer":0,"source":"VGG11","cka":0.80},{"layer":0,"source":"ResNet18","cka":0.79},{"layer":0,"source":"ViT-B/32","cka":0.99},{"layer":0,"source":"MLP-Mixer-B/16","cka":0.64},
{"layer":2,"source":"AlexNet","cka":0.87},{"layer":2,"source":"VGG11","cka":0.88},{"layer":2,"source":"ResNet18","cka":0.90},{"layer":2,"source":"ViT-B/32","cka":0.99},{"layer":2,"source":"MLP-Mixer-B/16","cka":0.94},
{"layer":4,"source":"AlexNet","cka":0.85},{"layer":4,"source":"VGG11","cka":0.85},{"layer":4,"source":"ResNet18","cka":0.88},{"layer":4,"source":"ViT-B/32","cka":0.98},{"layer":4,"source":"MLP-Mixer-B/16","cka":0.91},
{"layer":6,"source":"AlexNet","cka":0.81},{"layer":6,"source":"VGG11","cka":0.83},{"layer":6,"source":"ResNet18","cka":0.85},{"layer":6,"source":"ViT-B/32","cka":0.97},{"layer":6,"source":"MLP-Mixer-B/16","cka":0.89},
{"layer":8,"source":"AlexNet","cka":0.78},{"layer":8,"source":"VGG11","cka":0.80},{"layer":8,"source":"ResNet18","cka":0.81},{"layer":8,"source":"ViT-B/32","cka":0.95},{"layer":8,"source":"MLP-Mixer-B/16","cka":0.88},
{"layer":10,"source":"AlexNet","cka":0.75},{"layer":10,"source":"VGG11","cka":0.76},{"layer":10,"source":"ResNet18","cka":0.78},{"layer":10,"source":"ViT-B/32","cka":0.94},{"layer":10,"source":"MLP-Mixer-B/16","cka":0.85}
],
"b_mlp": [
{"layer":0,"source":"AlexNet","cka":0.67},{"layer":0,"source":"VGG11","cka":0.66},{"layer":0,"source":"ResNet18","cka":0.77},{"layer":0,"source":"ViT-B/32","cka":0.65},{"layer":0,"source":"MLP-Mixer-B/16","cka":1.0},
{"layer":4,"source":"AlexNet","cka":0.82},{"layer":4,"source":"VGG11","cka":0.83},{"layer":4,"source":"ResNet18","cka":0.82},{"layer":4,"source":"ViT-B/32","cka":0.91},{"layer":4,"source":"MLP-Mixer-B/16","cka":1.0},
{"layer":8,"source":"AlexNet","cka":0.70},{"layer":8,"source":"VGG11","cka":0.69},{"layer":8,"source":"ResNet18","cka":0.65},{"layer":8,"source":"ViT-B/32","cka":0.78},{"layer":8,"source":"MLP-Mixer-B/16","cka":1.0},
{"layer":12,"source":"AlexNet","cka":0.88},{"layer":12,"source":"VGG11","cka":0.90},{"layer":12,"source":"ResNet18","cka":0.91},{"layer":12,"source":"ViT-B/32","cka":0.94},{"layer":12,"source":"MLP-Mixer-B/16","cka":1.0},
{"layer":16,"source":"AlexNet","cka":0.76},{"layer":16,"source":"VGG11","cka":0.76},{"layer":16,"source":"ResNet18","cka":0.76},{"layer":16,"source":"ViT-B/32","cka":0.85},{"layer":16,"source":"MLP-Mixer-B/16","cka":1.0},
{"layer":20,"source":"AlexNet","cka":0.71},{"layer":20,"source":"VGG11","cka":0.70},{"layer":20,"source":"ResNet18","cka":0.68},{"layer":20,"source":"ViT-B/32","cka":0.79},{"layer":20,"source":"MLP-Mixer-B/16","cka":1.0}
],
"m_mlp": [
{"layer":0,"source":"MLP-Mixer-B/16","cka":0.64},{"layer":0,"source":"MLP-Mixer-B/16","cka":0.26},
{"layer":4,"source":"MLP-Mixer-B/16","cka":0.84},{"layer":4,"source":"MLP-Mixer-B/16","cka":0.46},{"layer":4,"source":"MLP-Mixer-B/16","cka":0.09},
{"layer":8,"source":"MLP-Mixer-B/16","cka":0.67},{"layer":8,"source":"MLP-Mixer-B/16","cka":0.30},
{"layer":12,"source":"MLP-Mixer-B/16","cka":0.86},{"layer":12,"source":"MLP-Mixer-B/16","cka":0.52},{"layer":12,"source":"MLP-Mixer-B/16","cka":0.12},
{"layer":16,"source":"MLP-Mixer-B/16","cka":0.71},{"layer":16,"source":"MLP-Mixer-B/16","cka":0.35},
{"layer":20,"source":"MLP-Mixer-B/16","cka":0.91},{"layer":20,"source":"MLP-Mixer-B/16","cka":0.55},{"layer":20,"source":"MLP-Mixer-B/16","cka":0.17}
]
},
"vconcat": [
{
"title": {"text": "(a) CKA scores for every pair of layers", "orient": "bottom", "anchor": "middle", "font": "Liberation Serif", "fontSize": 13, "fontWeight": "normal", "color": "#000", "offset": 10},
"bounds": "flush",
"spacing": 21,
"resolve": {"scale": {"color": "independent"}, "legend": {"color": "independent"}},
"hconcat": [
{"width": 107, "height": 96, "title": "Target: AlexNet", "data": {"name": "s_alexnet"},
 "transform": [{"window": [{"op": "row_number", "as": "rank"}], "groupby": ["layer", "kind"], "sort": [{"field": "cka"}]}, {"calculate": "(datum.kind === 'G' ? -0.27 : datum.kind === 'O' ? 0 : 0.27) + (((datum.rank * 3) % 7) - 3) * 0.045", "as": "offset"}],
 "mark": {"type": "circle", "size": 11, "opacity": 1},
 "encoding": {
  "x": {"field": "layer", "type": "ordinal", "scale": {"paddingInner": 0, "paddingOuter": 0}, "axis": {"labelAngle": 0, "title": "Target Layer Number"}},
  "xOffset": {"field": "offset", "type": "quantitative", "scale": {"domain": [-0.5, 0.5]}},
  "y": {"field": "cka", "type": "quantitative", "scale": {"domain": [0, 1.05], "nice": false}, "axis": {"values": [0, 0.2, 0.4, 0.6, 0.8, 1.0], "format": ".1f", "title": "CKA"}},
  "color": {"field": "kind", "type": "nominal", "scale": {"domain": ["G", "O", "D"], "range": ["#2ca02c", "#ff7f0e", "#1f77b4"]}, "legend": null}}},
{"width": 107, "height": 96, "title": "Target: VGG11", "data": {"name": "s_vgg"},
 "transform": [{"window": [{"op": "row_number", "as": "rank"}], "groupby": ["layer", "kind"], "sort": [{"field": "cka"}]}, {"calculate": "(datum.kind === 'G' ? -0.27 : datum.kind === 'O' ? 0 : 0.27) + (((datum.rank * 3) % 7) - 3) * 0.045", "as": "offset"}],
 "mark": {"type": "circle", "size": 11, "opacity": 1},
 "encoding": {
  "x": {"field": "layer", "type": "ordinal", "scale": {"paddingInner": 0, "paddingOuter": 0}, "axis": {"labelAngle": 0, "title": "Target Layer Number"}},
  "xOffset": {"field": "offset", "type": "quantitative", "scale": {"domain": [-0.5, 0.5]}},
  "y": {"field": "cka", "type": "quantitative", "scale": {"domain": [0, 1.05], "nice": false}, "axis": {"values": [0, 0.2, 0.4, 0.6, 0.8, 1.0], "format": ".1f", "title": null}},
  "color": {"field": "kind", "type": "nominal", "scale": {"domain": ["G", "O", "D"], "range": ["#2ca02c", "#ff7f0e", "#1f77b4"]}, "legend": null}}},
{"width": 107, "height": 96, "title": "Target: ResNet18", "data": {"name": "s_resnet"},
 "transform": [{"window": [{"op": "row_number", "as": "rank"}], "groupby": ["layer", "kind"], "sort": [{"field": "cka"}]}, {"calculate": "(datum.kind === 'G' ? -0.27 : datum.kind === 'O' ? 0 : 0.27) + (((datum.rank * 3) % 7) - 3) * 0.045", "as": "offset"}],
 "mark": {"type": "circle", "size": 11, "opacity": 1},
 "encoding": {
  "x": {"field": "layer", "type": "ordinal", "scale": {"paddingInner": 0, "paddingOuter": 0}, "axis": {"labelAngle": 0, "title": "Target Layer Number"}},
  "xOffset": {"field": "offset", "type": "quantitative", "scale": {"domain": [-0.5, 0.5]}},
  "y": {"field": "cka", "type": "quantitative", "scale": {"domain": [0, 1.05], "nice": false}, "axis": {"values": [0, 0.2, 0.4, 0.6, 0.8, 1.0], "format": ".1f", "title": null}},
  "color": {"field": "kind", "type": "nominal", "scale": {"domain": ["G", "O", "D"], "range": ["#2ca02c", "#ff7f0e", "#1f77b4"]},
   "legend": {"title": null, "columns": 3, "legendX": -53, "legendY": 126, "symbolType": "circle", "symbolSize": 16, "labelExpr": "datum.label === 'G' ? 'Matched model & layer' : datum.label === 'O' ? 'Matched model' : 'Different model'"}}}},
{"width": 107, "height": 96, "title": "Target: ViT-B/32", "data": {"name": "s_vit"},
 "transform": [{"window": [{"op": "row_number", "as": "rank"}], "groupby": ["layer", "kind"], "sort": [{"field": "cka"}]}, {"calculate": "(datum.kind === 'G' ? -0.27 : datum.kind === 'O' ? 0 : 0.27) + (((datum.rank * 3) % 7) - 3) * 0.045", "as": "offset"}],
 "mark": {"type": "circle", "size": 11, "opacity": 1},
 "encoding": {
  "x": {"field": "layer", "type": "ordinal", "scale": {"paddingInner": 0, "paddingOuter": 0}, "axis": {"labelAngle": 0, "title": "Target Layer Number"}},
  "xOffset": {"field": "offset", "type": "quantitative", "scale": {"domain": [-0.5, 0.5]}},
  "y": {"field": "cka", "type": "quantitative", "scale": {"domain": [0, 1.05], "nice": false}, "axis": {"values": [0, 0.2, 0.4, 0.6, 0.8, 1.0], "format": ".1f", "title": null}},
  "color": {"field": "kind", "type": "nominal", "scale": {"domain": ["G", "O", "D"], "range": ["#2ca02c", "#ff7f0e", "#1f77b4"]}, "legend": null}}},
{"width": 107, "height": 96, "title": "Target: MLP-Mixer-B/16", "data": {"name": "s_mlp"},
 "transform": [{"window": [{"op": "row_number", "as": "rank"}], "groupby": ["layer", "kind"], "sort": [{"field": "cka"}]}, {"calculate": "(datum.kind === 'G' ? -0.27 : datum.kind === 'O' ? 0 : 0.27) + (((datum.rank * 3) % 7) - 3) * 0.045", "as": "offset"}],
 "mark": {"type": "circle", "size": 11, "opacity": 1},
 "encoding": {
  "x": {"field": "layer", "type": "ordinal", "scale": {"paddingInner": 0, "paddingOuter": 0}, "axis": {"labelAngle": 0, "title": "Target Layer Number"}},
  "xOffset": {"field": "offset", "type": "quantitative", "scale": {"domain": [-0.5, 0.5]}},
  "y": {"field": "cka", "type": "quantitative", "scale": {"domain": [0, 1.05], "nice": false}, "axis": {"values": [0, 0.2, 0.4, 0.6, 0.8, 1.0], "format": ".1f", "title": null}},
  "color": {"field": "kind", "type": "nominal", "scale": {"domain": ["G", "O", "D"], "range": ["#2ca02c", "#ff7f0e", "#1f77b4"]}, "legend": null}}}
]
},
{
"title": {"text": "(b) CKA scores for top-performing layer in each source network", "orient": "bottom", "anchor": "middle", "font": "Liberation Serif", "fontSize": 13, "fontWeight": "normal", "color": "#000", "offset": 6},
"bounds": "flush",
"spacing": 21,
"resolve": {"scale": {"color": "independent"}, "legend": {"color": "independent"}},
"hconcat": [
{"width": 107, "height": 108, "title": "Target: AlexNet", "data": {"name": "b_alexnet"},
 "mark": {"type": "bar"},
 "encoding": {
  "x": {"field": "layer", "type": "ordinal", "scale": {"paddingInner": 0.43, "paddingOuter": 0.215}, "axis": {"labelAngle": 0, "title": "Layer Number"}},
  "xOffset": {"field": "source", "type": "nominal", "scale": {"domain": ["AlexNet", "VGG11", "ResNet18", "ViT-B/32", "MLP-Mixer-B/16"], "paddingInner": 0}},
  "y": {"field": "cka", "type": "quantitative", "scale": {"domain": [0, 1.05], "nice": false}, "axis": {"values": [0, 0.2, 0.4, 0.6, 0.8, 1.0], "format": ".1f", "title": "CKA"}},
  "color": {"field": "source", "type": "nominal", "scale": {"domain": ["AlexNet", "VGG11", "ResNet18", "ViT-B/32", "MLP-Mixer-B/16"], "range": ["#1f77b4", "#ff7f0e", "#2ca02c", "#d62728", "#9467bd"]}, "legend": null}}},
{"width": 107, "height": 108, "title": "Target: VGG11", "data": {"name": "b_vgg"},
 "mark": {"type": "bar"},
 "encoding": {
  "x": {"field": "layer", "type": "ordinal", "scale": {"paddingInner": 0.43, "paddingOuter": 0.215}, "axis": {"labelAngle": 0, "title": "Layer Number"}},
  "xOffset": {"field": "source", "type": "nominal", "scale": {"domain": ["AlexNet", "VGG11", "ResNet18", "ViT-B/32", "MLP-Mixer-B/16"], "paddingInner": 0}},
  "y": {"field": "cka", "type": "quantitative", "scale": {"domain": [0, 1.05], "nice": false}, "axis": {"values": [0, 0.2, 0.4, 0.6, 0.8, 1.0], "format": ".1f", "title": null}},
  "color": {"field": "source", "type": "nominal", "scale": {"domain": ["AlexNet", "VGG11", "ResNet18", "ViT-B/32", "MLP-Mixer-B/16"], "range": ["#1f77b4", "#ff7f0e", "#2ca02c", "#d62728", "#9467bd"]}, "legend": null}}},
{"width": 107, "height": 108, "title": "Target: ResNet18", "data": {"name": "b_resnet"},
 "mark": {"type": "bar"},
 "encoding": {
  "x": {"field": "layer", "type": "ordinal", "scale": {"paddingInner": 0.43, "paddingOuter": 0.215}, "axis": {"labelAngle": 0, "title": "Layer Number"}},
  "xOffset": {"field": "source", "type": "nominal", "scale": {"domain": ["AlexNet", "VGG11", "ResNet18", "ViT-B/32", "MLP-Mixer-B/16"], "paddingInner": 0}},
  "y": {"field": "cka", "type": "quantitative", "scale": {"domain": [0, 1.05], "nice": false}, "axis": {"values": [0, 0.2, 0.4, 0.6, 0.8, 1.0], "format": ".1f", "title": null}},
  "color": {"field": "source", "type": "nominal", "scale": {"domain": ["AlexNet", "VGG11", "ResNet18", "ViT-B/32", "MLP-Mixer-B/16"], "range": ["#1f77b4", "#ff7f0e", "#2ca02c", "#d62728", "#9467bd"]},
   "legend": {"title": null, "columns": 5, "legendX": -117, "legendY": 135, "symbolType": "M-2.3,-0.8H2.3V0.8H-2.3Z", "symbolSize": 36, "columnPadding": 16}}}},
{"width": 107, "height": 108, "title": "Target: ViT-B/32", "data": {"name": "b_vit"},
 "mark": {"type": "bar"},
 "encoding": {
  "x": {"field": "layer", "type": "ordinal", "scale": {"paddingInner": 0.43, "paddingOuter": 0.215}, "axis": {"labelAngle": 0, "title": "Layer Number"}},
  "xOffset": {"field": "source", "type": "nominal", "scale": {"domain": ["AlexNet", "VGG11", "ResNet18", "ViT-B/32", "MLP-Mixer-B/16"], "paddingInner": 0}},
  "y": {"field": "cka", "type": "quantitative", "scale": {"domain": [0, 1.05], "nice": false}, "axis": {"values": [0, 0.2, 0.4, 0.6, 0.8, 1.0], "format": ".1f", "title": null}},
  "color": {"field": "source", "type": "nominal", "scale": {"domain": ["AlexNet", "VGG11", "ResNet18", "ViT-B/32", "MLP-Mixer-B/16"], "range": ["#1f77b4", "#ff7f0e", "#2ca02c", "#d62728", "#9467bd"]}, "legend": null}}},
{"width": 107, "height": 108, "title": "Target: MLP-Mixer-B/16",
 "layer": [
  {"data": {"name": "b_mlp"},
   "mark": {"type": "bar"},
   "encoding": {
    "x": {"field": "layer", "type": "ordinal", "scale": {"paddingInner": 0.43, "paddingOuter": 0.215}, "axis": {"labelAngle": 0, "title": "Layer Number"}},
    "xOffset": {"field": "source", "type": "nominal", "scale": {"domain": ["AlexNet", "VGG11", "ResNet18", "ViT-B/32", "MLP-Mixer-B/16"], "paddingInner": 0}},
    "y": {"field": "cka", "type": "quantitative", "scale": {"domain": [0, 1.05], "nice": false}, "axis": {"values": [0, 0.2, 0.4, 0.6, 0.8, 1.0], "format": ".1f", "title": null}},
    "color": {"field": "source", "type": "nominal", "scale": {"domain": ["AlexNet", "VGG11", "ResNet18", "ViT-B/32", "MLP-Mixer-B/16"], "range": ["#1f77b4", "#ff7f0e", "#2ca02c", "#d62728", "#9467bd"]}, "legend": null}}},
  {"data": {"name": "m_mlp"},
   "mark": {"type": "point", "shape": "M-1,-1L1,1", "size": 9, "stroke": "#000", "strokeWidth": 1.5, "filled": false, "opacity": 1},
   "encoding": {
    "x": {"field": "layer", "type": "ordinal"},
    "xOffset": {"field": "source", "type": "nominal"},
    "y": {"field": "cka", "type": "quantitative"}}}
 ]}
]
}
]
}
